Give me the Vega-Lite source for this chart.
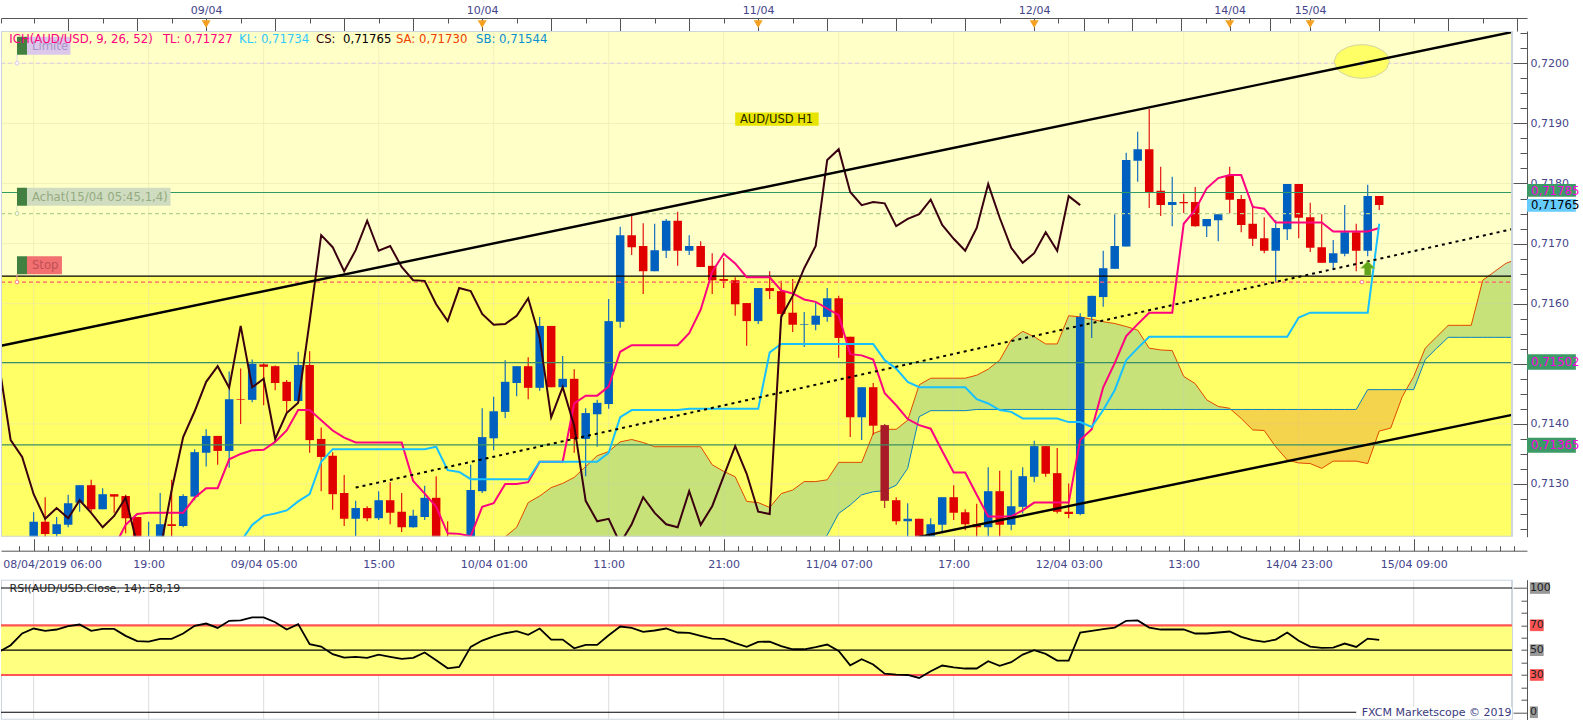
{"$schema":"https://vega.github.io/schema/vega-lite/v6.json","padding":0,"background":"white","spacing":0.7,
"config":{"view":{"stroke":null},"text":{"font":"DejaVu Sans"},"axis":{"title":null,"grid":false,"labelFont":"DejaVu Sans","labelFontSize":11,"labelColor":"#45458a","tickColor":"#555555","domainColor":"#555555","labelOverlap":false,"labelBound":false,"labelFlush":false}},
"datasets":{
"page":[{"a":-2.84,"b":134.8,"top":0.72105,"bottom":0.71145}],
"frame":[{"a":-2.84,"b":128.55,"top":0.720537,"bottom":0.712123}],
"bands":[{"zone":"upper","a":-2.84,"b":128.55,"top":0.720537,"bottom":0.71646},{"zone":"lower","a":-2.84,"b":128.55,"top":0.71646,"bottom":0.712123}],
"gridx":[{"bar":0},{"bar":10},{"bar":20},{"bar":30},{"bar":40},{"bar":50},{"bar":60},{"bar":70},{"bar":80},{"bar":90},{"bar":100},{"bar":110},{"bar":120}],
"gridy":[{"price":0.72},{"price":0.719},{"price":0.718},{"price":0.717},{"price":0.716},{"price":0.715},{"price":0.714},{"price":0.713}],
"levels":[{"level":"Limite","price":0.72},{"level":"Achat ordre","price":0.7175},{"level":"Achat","price":0.71785},{"level":"Prix","price":0.71646},{"level":"Stop","price":0.71636},{"level":"S1","price":0.71502},{"level":"S2","price":0.71365}],
"links":[{"o":"Limite","bar":-1.45,"top":0.72014,"price":0.72},{"o":"Achat","bar":-1.45,"top":0.71763,"price":0.7175},{"o":"Stop","bar":-1.45,"top":0.71649,"price":0.71636}],
"dots":[{"o":"Limite","bar":-1.45,"price":0.72},{"o":"Achat","bar":-1.45,"price":0.7175},{"o":"Stop","bar":-1.45,"price":0.71636},{"o":"Limite","bar":115.5,"price":0.72},{"o":"Achat","bar":115.5,"price":0.7175},{"o":"Stop","bar":115.5,"price":0.71636}],
"trends":[{"line":"haut","bar":-2.84,"price":0.7153},{"line":"haut","bar":128.55,"price":0.72052},{"line":"bas","bar":77,"price":0.71212},{"line":"bas","bar":128.55,"price":0.71415}],
"dotted":[{"bar":28,"price":0.71294},{"bar":128.55,"price":0.71724}],
"ellipse":[{"bar":113.07,"top":0.72003,"bottom":0.72003},{"bar":113.31,"top":0.72015,"bottom":0.71991},{"bar":113.67,"top":0.72021,"bottom":0.71985},{"bar":114.27,"top":0.72027,"bottom":0.71979},{"bar":114.88,"top":0.7203,"bottom":0.71976},{"bar":115.48,"top":0.72031,"bottom":0.71975},{"bar":116.08,"top":0.7203,"bottom":0.71976},{"bar":116.69,"top":0.72027,"bottom":0.71979},{"bar":117.29,"top":0.72021,"bottom":0.71985},{"bar":117.65,"top":0.72015,"bottom":0.71991},{"bar":117.89,"top":0.72003,"bottom":0.72003}],
"candles":[
{"bar":0,"dir":"up","open":0.712,"high":0.71253,"low":0.7119,"close":0.71237},{"bar":1,"dir":"dn","open":0.71237,"high":0.71278,"low":0.712,"close":0.71217},{"bar":2,"dir":"up","open":0.71217,"high":0.71245,"low":0.71205,"close":0.71233},{"bar":3,"dir":"up","open":0.71232,"high":0.71282,"low":0.71228,"close":0.71268},{"bar":4,"dir":"up","open":0.71269,"high":0.71298,"low":0.71254,"close":0.71298},{"bar":5,"dir":"dn","open":0.71298,"high":0.71307,"low":0.71254,"close":0.71258},{"bar":6,"dir":"up","open":0.71258,"high":0.71293,"low":0.71258,"close":0.71283},{"bar":7,"dir":"dn","open":0.71283,"high":0.71283,"low":0.71252,"close":0.71279},{"bar":8,"dir":"dn","open":0.7128,"high":0.71282,"low":0.71218,"close":0.71243},{"bar":9,"dir":"dn","open":0.71245,"high":0.71245,"low":0.7119,"close":0.71207},
{"bar":10,"dir":"up","open":0.7119,"high":0.71237,"low":0.7118,"close":0.71205},{"bar":11,"dir":"up","open":0.71196,"high":0.71285,"low":0.7119,"close":0.71233},{"bar":12,"dir":"dn","open":0.71233,"high":0.71307,"low":0.71207,"close":0.7123},{"bar":13,"dir":"up","open":0.7123,"high":0.71283,"low":0.71228,"close":0.7128},{"bar":14,"dir":"up","open":0.71279,"high":0.71358,"low":0.71273,"close":0.71353},{"bar":15,"dir":"up","open":0.71352,"high":0.71391,"low":0.71329,"close":0.7138},{"bar":16,"dir":"dn","open":0.7138,"high":0.7138,"low":0.71332,"close":0.71355},{"bar":17,"dir":"up","open":0.71355,"high":0.71487,"low":0.71327,"close":0.71441},{"bar":18,"dir":"dn","open":0.71441,"high":0.71492,"low":0.714,"close":0.7144},{"bar":19,"dir":"up","open":0.7144,"high":0.71507,"low":0.71436,"close":0.715},
{"bar":20,"dir":"dn","open":0.71499,"high":0.71501,"low":0.71431,"close":0.71495},{"bar":21,"dir":"dn","open":0.71496,"high":0.71497,"low":0.71456,"close":0.71468},{"bar":22,"dir":"dn","open":0.7147,"high":0.71473,"low":0.71418,"close":0.71438},{"bar":23,"dir":"up","open":0.71438,"high":0.7152,"low":0.71438,"close":0.71498},{"bar":24,"dir":"dn","open":0.71498,"high":0.71521,"low":0.71352,"close":0.71373},{"bar":25,"dir":"dn","open":0.71375,"high":0.71394,"low":0.71288,"close":0.71345},{"bar":26,"dir":"dn","open":0.71347,"high":0.71353,"low":0.71257,"close":0.71283},{"bar":27,"dir":"dn","open":0.71285,"high":0.71315,"low":0.7123,"close":0.71242},{"bar":28,"dir":"up","open":0.71242,"high":0.71272,"low":0.71213,"close":0.7126},{"bar":29,"dir":"dn","open":0.7126,"high":0.71263,"low":0.71238,"close":0.71243},
{"bar":30,"dir":"up","open":0.71243,"high":0.71288,"low":0.7124,"close":0.71273},{"bar":31,"dir":"dn","open":0.71273,"high":0.71303,"low":0.71233,"close":0.71252},{"bar":32,"dir":"dn","open":0.71254,"high":0.71285,"low":0.7122,"close":0.71228},{"bar":33,"dir":"up","open":0.71228,"high":0.71257,"low":0.71227,"close":0.71247},{"bar":34,"dir":"up","open":0.71245,"high":0.71297,"low":0.7124,"close":0.71277},{"bar":35,"dir":"dn","open":0.71277,"high":0.71313,"low":0.7119,"close":0.712},{"bar":36,"dir":"dn","open":0.71205,"high":0.71238,"low":0.71185,"close":0.71195},{"bar":37,"dir":"dn","open":0.712,"high":0.71205,"low":0.7118,"close":0.7119},{"bar":38,"dir":"up","open":0.7119,"high":0.71332,"low":0.7118,"close":0.7129},{"bar":39,"dir":"up","open":0.71288,"high":0.71426,"low":0.71285,"close":0.71378},
{"bar":40,"dir":"up","open":0.71376,"high":0.71445,"low":0.71356,"close":0.71421},{"bar":41,"dir":"up","open":0.7142,"high":0.71506,"low":0.7141,"close":0.7147},{"bar":42,"dir":"up","open":0.71468,"high":0.71496,"low":0.71446,"close":0.71496},{"bar":43,"dir":"dn","open":0.71496,"high":0.71511,"low":0.71441,"close":0.7146},{"bar":44,"dir":"up","open":0.7146,"high":0.71578,"low":0.71455,"close":0.71563},{"bar":45,"dir":"dn","open":0.71563,"high":0.71563,"low":0.71461,"close":0.71461},{"bar":46,"dir":"up","open":0.71461,"high":0.71513,"low":0.71461,"close":0.71475},{"bar":47,"dir":"dn","open":0.71475,"high":0.71491,"low":0.71352,"close":0.71375},{"bar":48,"dir":"up","open":0.71375,"high":0.71426,"low":0.71313,"close":0.71418},{"bar":49,"dir":"up","open":0.71416,"high":0.7144,"low":0.71362,"close":0.71435},
{"bar":50,"dir":"up","open":0.71433,"high":0.71608,"low":0.71425,"close":0.71571},{"bar":51,"dir":"up","open":0.7157,"high":0.71728,"low":0.7156,"close":0.71714},{"bar":52,"dir":"dn","open":0.71714,"high":0.71749,"low":0.71681,"close":0.71694},{"bar":53,"dir":"dn","open":0.71696,"high":0.71734,"low":0.71616,"close":0.71654},{"bar":54,"dir":"up","open":0.71654,"high":0.71733,"low":0.71654,"close":0.71689},{"bar":55,"dir":"up","open":0.71688,"high":0.71741,"low":0.71676,"close":0.71738},{"bar":56,"dir":"dn","open":0.71738,"high":0.71753,"low":0.71663,"close":0.71688},{"bar":57,"dir":"up","open":0.71688,"high":0.71714,"low":0.71681,"close":0.71696},{"bar":58,"dir":"dn","open":0.71696,"high":0.71704,"low":0.71661,"close":0.71661},{"bar":59,"dir":"dn","open":0.71663,"high":0.71684,"low":0.71616,"close":0.71639},
{"bar":60,"dir":"dn","open":0.71641,"high":0.71676,"low":0.71626,"close":0.71638},{"bar":61,"dir":"dn","open":0.71639,"high":0.71644,"low":0.7158,"close":0.71599},{"bar":62,"dir":"dn","open":0.71601,"high":0.71601,"low":0.7153,"close":0.71571},{"bar":63,"dir":"up","open":0.71571,"high":0.71626,"low":0.71566,"close":0.71626},{"bar":64,"dir":"dn","open":0.71626,"high":0.71654,"low":0.71608,"close":0.71621},{"bar":65,"dir":"dn","open":0.71621,"high":0.71638,"low":0.7158,"close":0.71583},{"bar":66,"dir":"dn","open":0.71585,"high":0.71641,"low":0.71553,"close":0.71565},{"bar":67,"dir":"up","open":0.71565,"high":0.71586,"low":0.71528,"close":0.71566},{"bar":68,"dir":"up","open":0.71565,"high":0.71601,"low":0.71556,"close":0.7158},{"bar":69,"dir":"up","open":0.71578,"high":0.71626,"low":0.7157,"close":0.71609},
{"bar":70,"dir":"dn","open":0.71609,"high":0.71613,"low":0.7151,"close":0.71543},{"bar":71,"dir":"dn","open":0.71545,"high":0.71545,"low":0.71378,"close":0.71411},{"bar":72,"dir":"up","open":0.71411,"high":0.71461,"low":0.71373,"close":0.71461},{"bar":73,"dir":"dn","open":0.71461,"high":0.71468,"low":0.71382,"close":0.71397},{"bar":74,"dir":"dnc","open":0.71398,"high":0.714,"low":0.7126,"close":0.71272},{"bar":75,"dir":"dn","open":0.71273,"high":0.71278,"low":0.71232,"close":0.71238},{"bar":76,"dir":"up","open":0.71238,"high":0.71268,"low":0.71201,"close":0.71242},{"bar":77,"dir":"dn","open":0.71242,"high":0.71242,"low":0.7119,"close":0.71201},{"bar":78,"dir":"up","open":0.71201,"high":0.71243,"low":0.7119,"close":0.71233},{"bar":79,"dir":"up","open":0.71232,"high":0.71278,"low":0.71218,"close":0.71278},
{"bar":80,"dir":"dn","open":0.71278,"high":0.71298,"low":0.7124,"close":0.71252},{"bar":81,"dir":"dn","open":0.71253,"high":0.71258,"low":0.71223,"close":0.71233},{"bar":82,"dir":"dn","open":0.71233,"high":0.71267,"low":0.71201,"close":0.71228},{"bar":83,"dir":"up","open":0.71228,"high":0.71328,"low":0.71207,"close":0.71288},{"bar":84,"dir":"dn","open":0.71288,"high":0.71322,"low":0.71207,"close":0.71232},{"bar":85,"dir":"up","open":0.71232,"high":0.71323,"low":0.71223,"close":0.71263},{"bar":86,"dir":"up","open":0.71262,"high":0.71328,"low":0.71251,"close":0.71313},{"bar":87,"dir":"up","open":0.71312,"high":0.71372,"low":0.71303,"close":0.71363},{"bar":88,"dir":"dn","open":0.71363,"high":0.71363,"low":0.71312,"close":0.71317},{"bar":89,"dir":"dn","open":0.71318,"high":0.7136,"low":0.71251,"close":0.71254},
{"bar":90,"dir":"dn","open":0.71254,"high":0.71301,"low":0.71243,"close":0.7125},{"bar":91,"dir":"up","open":0.7125,"high":0.71584,"low":0.71248,"close":0.71578},{"bar":92,"dir":"up","open":0.71578,"high":0.71613,"low":0.71543,"close":0.71613},{"bar":93,"dir":"up","open":0.71611,"high":0.71688,"low":0.71595,"close":0.71659},{"bar":94,"dir":"up","open":0.71658,"high":0.71749,"low":0.71658,"close":0.71696},{"bar":95,"dir":"up","open":0.71695,"high":0.71851,"low":0.71695,"close":0.71839},{"bar":96,"dir":"up","open":0.71838,"high":0.71886,"low":0.71803,"close":0.71857},{"bar":97,"dir":"dn","open":0.71857,"high":0.71924,"low":0.71759,"close":0.71786},{"bar":98,"dir":"dn","open":0.71788,"high":0.71828,"low":0.71746,"close":0.71764},{"bar":99,"dir":"up","open":0.71764,"high":0.71811,"low":0.71729,"close":0.71769},
{"bar":100,"dir":"dn","open":0.71769,"high":0.71783,"low":0.71751,"close":0.71767},{"bar":101,"dir":"dn","open":0.71769,"high":0.71794,"low":0.71728,"close":0.71729},{"bar":102,"dir":"up","open":0.71729,"high":0.71741,"low":0.71711,"close":0.71741},{"bar":103,"dir":"up","open":0.71739,"high":0.71749,"low":0.71704,"close":0.71749},{"bar":104,"dir":"dn","open":0.71813,"high":0.71828,"low":0.71751,"close":0.71773},{"bar":105,"dir":"dn","open":0.71774,"high":0.71781,"low":0.71719,"close":0.71731},{"bar":106,"dir":"dn","open":0.71733,"high":0.71764,"low":0.71696,"close":0.71708},{"bar":107,"dir":"dn","open":0.71709,"high":0.71744,"low":0.71684,"close":0.71688},{"bar":108,"dir":"up","open":0.71688,"high":0.71739,"low":0.71636,"close":0.71726},{"bar":109,"dir":"up","open":0.71724,"high":0.71799,"low":0.71706,"close":0.71799},
{"bar":110,"dir":"dn","open":0.71799,"high":0.71799,"low":0.71709,"close":0.71743},{"bar":111,"dir":"dn","open":0.71744,"high":0.71768,"low":0.71686,"close":0.71693},{"bar":112,"dir":"dn","open":0.71694,"high":0.71749,"low":0.71668,"close":0.71668},{"bar":113,"dir":"up","open":0.71668,"high":0.71706,"low":0.71656,"close":0.71684},{"bar":114,"dir":"up","open":0.71683,"high":0.71764,"low":0.71679,"close":0.71719},{"bar":115,"dir":"dn","open":0.71719,"high":0.71733,"low":0.71654,"close":0.71688},{"bar":116,"dir":"up","open":0.71688,"high":0.71798,"low":0.71679,"close":0.71779},{"bar":117,"dir":"dn","open":0.71779,"high":0.71779,"low":0.71756,"close":0.71764}],
"ichi":[{"bar":-3,"cs":0.71498},{"bar":-2,"cs":0.71373},{"bar":-1,"cs":0.71345},{"bar":0,"cs":0.71283},{"bar":1,"cs":0.71242},{"bar":2,"cs":0.7126},{"bar":3,"cs":0.71243},{"bar":4,"cs":0.71273},{"bar":5,"cs":0.71252},{"bar":6,"cs":0.71228},
{"bar":7,"cs":0.71247,"tl":0.71195},{"bar":8,"cs":0.71277,"tl":0.71232},{"bar":9,"cs":0.712,"tl":0.7125},{"bar":10,"cs":0.71195,"tl":0.71252},{"bar":11,"cs":0.7119,"tl":0.71252},{"bar":12,"cs":0.7129,"tl":0.71252},{"bar":13,"cs":0.71378,"tl":0.71252},{"bar":14,"cs":0.71421,"tl":0.71277},{"bar":15,"cs":0.7147,"tl":0.71293},{"bar":16,"cs":0.71496,"tl":0.71293},{"bar":17,"cs":0.7146,"tl":0.71341},
{"bar":18,"cs":0.71563,"tl":0.7135,"kl":0.71204},{"bar":19,"cs":0.71461,"tl":0.71356,"kl":0.71232},{"bar":20,"cs":0.71475,"tl":0.71357,"kl":0.71247},{"bar":21,"cs":0.71375,"tl":0.7137,"kl":0.71251},{"bar":22,"cs":0.71418,"tl":0.71389,"kl":0.71256},{"bar":23,"cs":0.71435,"tl":0.71423,"kl":0.71271},{"bar":24,"cs":0.71571,"tl":0.71423,"kl":0.71283},{"bar":25,"cs":0.71714,"tl":0.71406,"kl":0.71337},{"bar":26,"cs":0.71694,"tl":0.71389,"kl":0.71358},{"bar":27,"cs":0.71654,"tl":0.71377,"kl":0.71358},{"bar":28,"cs":0.71689,"tl":0.71369,"kl":0.71358},{"bar":29,"cs":0.71738,"tl":0.71369,"kl":0.71358},
{"bar":30,"cs":0.71688,"tl":0.71369,"kl":0.71358},{"bar":31,"cs":0.71696,"tl":0.71369,"kl":0.71358},{"bar":32,"cs":0.71661,"tl":0.71369,"kl":0.71358},{"bar":33,"cs":0.71639,"tl":0.71305,"kl":0.71358},{"bar":34,"cs":0.71638,"tl":0.71284,"kl":0.71358},{"bar":35,"cs":0.71599,"tl":0.71262,"kl":0.71362},{"bar":36,"cs":0.71571,"tl":0.71218,"kl":0.71323},{"bar":37,"cs":0.71626,"tl":0.71217,"kl":0.7132},{"bar":38,"cs":0.71621,"tl":0.71213,"kl":0.71308},{"bar":39,"cs":0.71583,"tl":0.71262,"kl":0.71308},
{"bar":40,"cs":0.71565,"tl":0.71268,"kl":0.71308},{"bar":41,"cs":0.71566,"tl":0.713,"kl":0.71308},{"bar":42,"cs":0.7158,"tl":0.713,"kl":0.71308},{"bar":43,"cs":0.71609,"tl":0.71303,"kl":0.71308},{"bar":44,"cs":0.71543,"tl":0.71337,"kl":0.71337},{"bar":45,"cs":0.71411,"tl":0.71337,"kl":0.71337},{"bar":46,"cs":0.71461,"tl":0.71337,"kl":0.71337},{"bar":47,"cs":0.71397,"tl":0.71434,"kl":0.71337},{"bar":48,"cs":0.71272,"tl":0.71447,"kl":0.71337},{"bar":49,"cs":0.71238,"tl":0.71447,"kl":0.71337},
{"bar":50,"cs":0.71242,"tl":0.71462,"kl":0.71352},{"bar":51,"cs":0.71201,"tl":0.7152,"kl":0.71411},{"bar":52,"cs":0.71233,"tl":0.71531,"kl":0.71423},{"bar":53,"cs":0.71278,"tl":0.71531,"kl":0.71423},{"bar":54,"cs":0.71252,"tl":0.71531,"kl":0.71423},{"bar":55,"cs":0.71233,"tl":0.71531,"kl":0.71423},{"bar":56,"cs":0.71228,"tl":0.71531,"kl":0.71423},{"bar":57,"cs":0.71288,"tl":0.71551,"kl":0.71425},{"bar":58,"cs":0.71232,"tl":0.7159,"kl":0.71425},{"bar":59,"cs":0.71263,"tl":0.71653,"kl":0.71425},
{"bar":60,"cs":0.71313,"tl":0.71683,"kl":0.71425},{"bar":61,"cs":0.71363,"tl":0.71667,"kl":0.71425},{"bar":62,"cs":0.71317,"tl":0.71644,"kl":0.71425},{"bar":63,"cs":0.71254,"tl":0.71644,"kl":0.71425},{"bar":64,"cs":0.7125,"tl":0.71644,"kl":0.71519},{"bar":65,"cs":0.71578,"tl":0.71622,"kl":0.71533},{"bar":66,"cs":0.71613,"tl":0.71617,"kl":0.71533},{"bar":67,"cs":0.71659,"tl":0.71607,"kl":0.71533},{"bar":68,"cs":0.71696,"tl":0.71603,"kl":0.71533},{"bar":69,"cs":0.71839,"tl":0.71592,"kl":0.71533},
{"bar":70,"cs":0.71857,"tl":0.71581,"kl":0.71533},{"bar":71,"cs":0.71786,"tl":0.71516,"kl":0.71533},{"bar":72,"cs":0.71764,"tl":0.71514,"kl":0.71533},{"bar":73,"cs":0.71769,"tl":0.71507,"kl":0.71533},{"bar":74,"cs":0.71767,"tl":0.71451,"kl":0.71506},{"bar":75,"cs":0.71729,"tl":0.71431,"kl":0.71492},{"bar":76,"cs":0.71741,"tl":0.71408,"kl":0.7147},{"bar":77,"cs":0.71749,"tl":0.71398,"kl":0.71461},{"bar":78,"cs":0.71773,"tl":0.71392,"kl":0.71461},{"bar":79,"cs":0.71731,"tl":0.71355,"kl":0.71461},
{"bar":80,"cs":0.71708,"tl":0.71319,"kl":0.71461},{"bar":81,"cs":0.71688,"tl":0.71319,"kl":0.71461},{"bar":82,"cs":0.71726,"tl":0.71282,"kl":0.71441},{"bar":83,"cs":0.71799,"tl":0.71246,"kl":0.71434},{"bar":84,"cs":0.71743,"tl":0.71246,"kl":0.71423},{"bar":85,"cs":0.71693,"tl":0.71246,"kl":0.7142},{"bar":86,"cs":0.71668,"tl":0.71256,"kl":0.71409},{"bar":87,"cs":0.71684,"tl":0.71269,"kl":0.71409},{"bar":88,"cs":0.71719,"tl":0.71269,"kl":0.71409},{"bar":89,"cs":0.71688,"tl":0.71269,"kl":0.71409},
{"bar":90,"cs":0.71779,"tl":0.71269,"kl":0.71403},{"bar":91,"cs":0.71764,"tl":0.71373,"kl":0.71403},{"bar":92,"tl":0.71391,"kl":0.71395},{"bar":93,"tl":0.71461,"kl":0.71423},{"bar":94,"tl":0.71501,"kl":0.71456},{"bar":95,"tl":0.71546,"kl":0.71506},{"bar":96,"tl":0.71566,"kl":0.71526},{"bar":97,"tl":0.71585,"kl":0.71545},{"bar":98,"tl":0.71585,"kl":0.71545},{"bar":99,"tl":0.71585,"kl":0.71545},
{"bar":100,"tl":0.71733,"kl":0.71545},{"bar":101,"tl":0.71756,"kl":0.71545},{"bar":102,"tl":0.71792,"kl":0.71545},{"bar":103,"tl":0.71809,"kl":0.71545},{"bar":104,"tl":0.71814,"kl":0.71545},{"bar":105,"tl":0.71814,"kl":0.71545},{"bar":106,"tl":0.71761,"kl":0.71545},{"bar":107,"tl":0.71758,"kl":0.71545},{"bar":108,"tl":0.71735,"kl":0.71545},{"bar":109,"tl":0.71735,"kl":0.71545},
{"bar":110,"tl":0.71735,"kl":0.71577},{"bar":111,"tl":0.71735,"kl":0.71585},{"bar":112,"tl":0.71735,"kl":0.71585},{"bar":113,"tl":0.7172,"kl":0.71585},{"bar":114,"tl":0.7172,"kl":0.71585},{"bar":115,"tl":0.7172,"kl":0.71585},{"bar":116,"tl":0.7172,"kl":0.71585},{"bar":117,"tl":0.71726,"kl":0.71733}],
"cloud":[{"seg":"A","bar":41,"sa":0.71212,"sb":0.71195},{"seg":"A","bar":42,"sa":0.71228,"sb":0.71195},{"seg":"A","bar":43,"sa":0.71269,"sb":0.71195},{"seg":"A","bar":44,"sa":0.7128,"sb":0.71195},{"seg":"A","bar":45,"sa":0.71294,"sb":0.71195},{"seg":"A","bar":46,"sa":0.71301,"sb":0.71195},{"seg":"A","bar":47,"sa":0.71311,"sb":0.71195},{"seg":"A","bar":48,"sa":0.71329,"sb":0.71195},{"seg":"A","bar":49,"sa":0.71347,"sb":0.71195},{"seg":"A","bar":50,"sa":0.71354,"sb":0.71195},{"seg":"A","bar":51,"sa":0.7137,"sb":0.71195},{"seg":"A","bar":52,"sa":0.71374,"sb":0.71195},{"seg":"A","bar":53,"sa":0.71369,"sb":0.71195},{"seg":"A","bar":54,"sa":0.71362,"sb":0.71195},{"seg":"A","bar":55,"sa":0.71362,"sb":0.71195},{"seg":"A","bar":56,"sa":0.71362,"sb":0.71195},{"seg":"A","bar":57,"sa":0.71362,"sb":0.71195},{"seg":"A","bar":58,"sa":0.71362,"sb":0.71195},{"seg":"A","bar":59,"sa":0.71332,"sb":0.71195},{"seg":"A","bar":60,"sa":0.71321,"sb":0.71195},{"seg":"A","bar":61,"sa":0.71312,"sb":0.71195},{"seg":"A","bar":62,"sa":0.71271,"sb":0.71195},{"seg":"A","bar":63,"sa":0.71269,"sb":0.71195},{"seg":"A","bar":64,"sa":0.71261,"sb":0.71195},{"seg":"A","bar":65,"sa":0.71284,"sb":0.71195},{"seg":"A","bar":66,"sa":0.7129,"sb":0.71195},{"seg":"A","bar":67,"sa":0.71304,"sb":0.71195},{"seg":"A","bar":68,"sa":0.71304,"sb":0.71195},{"seg":"A","bar":69,"sa":0.71307,"sb":0.71215},{"seg":"A","bar":70,"sa":0.71336,"sb":0.71251},{"seg":"A","bar":71,"sa":0.71336,"sb":0.71265},{"seg":"A","bar":72,"sa":0.71336,"sb":0.71282},{"seg":"A","bar":73,"sa":0.71384,"sb":0.71287},{"seg":"A","bar":74,"sa":0.71391,"sb":0.71289},{"seg":"A","bar":75,"sa":0.71391,"sb":0.71298},{"seg":"A","bar":76,"sa":0.71406,"sb":0.71326},{"seg":"A","bar":77,"sa":0.71465,"sb":0.71412},{"seg":"A","bar":78,"sa":0.71476,"sb":0.71422},{"seg":"A","bar":79,"sa":0.71476,"sb":0.71422},{"seg":"A","bar":80,"sa":0.71476,"sb":0.71422},{"seg":"A","bar":81,"sa":0.71476,"sb":0.71422},{"seg":"A","bar":82,"sa":0.71481,"sb":0.71424},{"seg":"A","bar":83,"sa":0.71491,"sb":0.71424},{"seg":"A","bar":84,"sa":0.71506,"sb":0.71424},{"seg":"A","bar":85,"sa":0.7154,"sb":0.71424},{"seg":"A","bar":86,"sa":0.71554,"sb":0.71424},{"seg":"A","bar":87,"sa":0.71545,"sb":0.71424},{"seg":"A","bar":88,"sa":0.71533,"sb":0.71424},{"seg":"A","bar":89,"sa":0.71533,"sb":0.71424},{"seg":"A","bar":90,"sa":0.7158,"sb":0.71424},{"seg":"A","bar":91,"sa":0.71578,"sb":0.71424},{"seg":"A","bar":92,"sa":0.71574,"sb":0.71424},{"seg":"A","bar":93,"sa":0.7157,"sb":0.71424},{"seg":"A","bar":94,"sa":0.71567,"sb":0.71424},{"seg":"A","bar":95,"sa":0.71562,"sb":0.71424},{"seg":"A","bar":96,"sa":0.71556,"sb":0.71424},{"seg":"A","bar":97,"sa":0.71526,"sb":0.71424},{"seg":"A","bar":98,"sa":0.71523,"sb":0.71424},{"seg":"A","bar":99,"sa":0.71522,"sb":0.71424},{"seg":"A","bar":100,"sa":0.71479,"sb":0.71424},{"seg":"A","bar":101,"sa":0.71467,"sb":0.71424},{"seg":"A","bar":102,"sa":0.7144,"sb":0.71424},{"seg":"A","bar":103,"sa":0.71429,"sb":0.71424},{"seg":"A","bar":104,"sa":0.71426,"sb":0.71424},{"seg":"A","bar":104.1,"sa":0.71424,"sb":0.71424},
{"seg":"B","bar":104.1,"sa":0.71424,"sb":0.71424},{"seg":"B","bar":105,"sa":0.71409,"sb":0.71424},{"seg":"B","bar":106,"sa":0.7139,"sb":0.71424},{"seg":"B","bar":107,"sa":0.71389,"sb":0.71424},{"seg":"B","bar":108,"sa":0.71362,"sb":0.71424},{"seg":"B","bar":109,"sa":0.7134,"sb":0.71424},{"seg":"B","bar":110,"sa":0.71335,"sb":0.71424},{"seg":"B","bar":111,"sa":0.71334,"sb":0.71424},{"seg":"B","bar":112,"sa":0.71326,"sb":0.71424},{"seg":"B","bar":113,"sa":0.71338,"sb":0.71424},{"seg":"B","bar":114,"sa":0.71338,"sb":0.71424},{"seg":"B","bar":115,"sa":0.71338,"sb":0.71424},{"seg":"B","bar":116,"sa":0.71334,"sb":0.71457},{"seg":"B","bar":117,"sa":0.71388,"sb":0.71457},{"seg":"B","bar":118,"sa":0.71393,"sb":0.71457},{"seg":"B","bar":119,"sa":0.71445,"sb":0.71457},{"seg":"B","bar":119.35,"sa":0.71457,"sb":0.71457},
{"seg":"C","bar":119.35,"sa":0.71457,"sb":0.71457},{"seg":"C","bar":120,"sa":0.71479,"sb":0.71457},{"seg":"C","bar":121,"sa":0.71526,"sb":0.71507},{"seg":"C","bar":122,"sa":0.71545,"sb":0.71526},{"seg":"C","bar":123,"sa":0.71564,"sb":0.71544},{"seg":"C","bar":124,"sa":0.71564,"sb":0.71544},{"seg":"C","bar":125,"sa":0.71564,"sb":0.71544},{"seg":"C","bar":126,"sa":0.71639,"sb":0.71544},{"seg":"C","bar":127,"sa":0.71653,"sb":0.71544},{"seg":"C","bar":128,"sa":0.71667,"sb":0.71544},{"seg":"C","bar":128.55,"sa":0.71671,"sb":0.71544}],
"boxes":[{"name":"limiteG","a":-1.45,"b":-0.58,"top":0.72044,"bottom":0.72014},{"name":"limite","a":-0.58,"b":3.2,"top":0.72044,"bottom":0.72014},{"name":"achatG","a":-1.45,"b":-0.58,"top":0.71793,"bottom":0.71763},{"name":"achat","a":-0.58,"b":11.9,"top":0.71793,"bottom":0.71763},{"name":"stopG","a":-1.45,"b":-0.58,"top":0.71679,"bottom":0.71649},{"name":"stop","a":-0.58,"b":2.46,"top":0.71679,"bottom":0.71649},{"name":"paire","a":61,"b":68.26,"top":0.71918,"bottom":0.71896},{"name":"tagVert","a":129.85,"b":134.1,"top":0.71799,"bottom":0.71778},{"name":"tagBleu","a":129.85,"b":134.1,"top":0.71774,"bottom":0.71753},{"name":"tagVert","a":129.85,"b":134.1,"top":0.71516,"bottom":0.7149},{"name":"tagVert","a":129.85,"b":134.1,"top":0.71377,"bottom":0.71352}],
"notes":[{"t":"ICH(AUD/USD, 9, 26, 52)","bar":-2.12,"price":0.7204,"k":"pink"},{"t":"TL: 0,71727","bar":11.24,"price":0.7204,"k":"pink"},{"t":"KL: 0,71734","bar":17.86,"price":0.7204,"k":"cyan"},{"t":"CS: ","bar":24.55,"price":0.7204,"k":"dark"},{"t":"0,71765","bar":26.9,"price":0.7204,"k":"black"},{"t":"SA: 0,71730","bar":31.5,"price":0.7204,"k":"orange"},{"t":"SB: 0,71544","bar":38.46,"price":0.7204,"k":"blue"},{"t":"Limite","bar":-0.15,"price":0.72029,"k":"lim"},{"t":"Achat(15/04 05:45,1,4)","bar":-0.15,"price":0.71778,"k":"ach"},{"t":"Stop","bar":-0.15,"price":0.71664,"k":"stp"},{"t":"0,71785","bar":130.2,"price":0.71788,"k":"mag"},{"t":"0,71765","bar":130.2,"price":0.71764,"k":"black"},{"t":"0,71502","bar":130.2,"price":0.71503,"k":"mag"},{"t":"0,71365","bar":130.2,"price":0.71365,"k":"mag"}],
"pair":[{"t":"AUD/USD H1","bar":64.6,"price":0.71906}],
"ticks":[{"bar":15},{"bar":39},{"bar":63},{"bar":87},{"bar":104},{"bar":111}],
"arrow":[{"bar":116,"price":0.71659}],
"rsi":[{"bar":-3,"rsi":48.6},{"bar":-2,"rsi":54},{"bar":-1,"rsi":63.4},{"bar":0,"rsi":67.4},{"bar":1,"rsi":65.5},{"bar":2,"rsi":66.6},{"bar":3,"rsi":69.3},{"bar":4,"rsi":70.6},{"bar":5,"rsi":65.5},{"bar":6,"rsi":67.1},{"bar":7,"rsi":67.1},{"bar":8,"rsi":61.5},{"bar":9,"rsi":57.2},{"bar":10,"rsi":56.9},{"bar":11,"rsi":59.1},{"bar":12,"rsi":59.1},{"bar":13,"rsi":63.4},{"bar":14,"rsi":69.6},{"bar":15,"rsi":71.4},{"bar":16,"rsi":67.9},{"bar":17,"rsi":73.6},{"bar":18,"rsi":73.9},{"bar":19,"rsi":76.3},{"bar":20,"rsi":76.3},{"bar":21,"rsi":72.5},{"bar":22,"rsi":66.6},{"bar":23,"rsi":70.9},{"bar":24,"rsi":54.8},{"bar":25,"rsi":52.9},{"bar":26,"rsi":46.7},{"bar":27,"rsi":44},{"bar":28,"rsi":44.6},{"bar":29,"rsi":43.8},{"bar":30,"rsi":46.4},{"bar":31,"rsi":44.6},{"bar":32,"rsi":43},{"bar":33,"rsi":43.8},{"bar":34,"rsi":48.1},{"bar":35,"rsi":41.9},{"bar":36,"rsi":35.4},{"bar":37,"rsi":36.5},{"bar":38,"rsi":52.6},{"bar":39,"rsi":57.7},{"bar":40,"rsi":61},{"bar":41,"rsi":63.6},{"bar":42,"rsi":65.3},{"bar":43,"rsi":62.3},{"bar":44,"rsi":67.4},{"bar":45,"rsi":58.5},{"bar":46,"rsi":58.5},{"bar":47,"rsi":51.5},{"bar":48,"rsi":54.2},{"bar":49,"rsi":54.2},{"bar":50,"rsi":62},{"bar":51,"rsi":69},{"bar":52,"rsi":67.9},{"bar":53,"rsi":64.7},{"bar":54,"rsi":65.8},{"bar":55,"rsi":67.4},{"bar":56,"rsi":64.2},{"bar":57,"rsi":63.9},{"bar":58,"rsi":61.5},{"bar":59,"rsi":59.3},{"bar":60,"rsi":59.1},{"bar":61,"rsi":55.6},{"bar":62,"rsi":52.6},{"bar":63,"rsi":56.7},{"bar":64,"rsi":56.9},{"bar":65,"rsi":53.2},{"bar":66,"rsi":50.7},{"bar":67,"rsi":50.7},{"bar":68,"rsi":52.4},{"bar":69,"rsi":54.5},{"bar":70,"rsi":49.4},{"bar":71,"rsi":37.8},{"bar":72,"rsi":42.7},{"bar":73,"rsi":38.4},{"bar":74,"rsi":31.1},{"bar":75,"rsi":30.3},{"bar":76,"rsi":30},{"bar":77,"rsi":27.6},{"bar":78,"rsi":33},{"bar":79,"rsi":37.6},{"bar":80,"rsi":36.2},{"bar":81,"rsi":35.2},{"bar":82,"rsi":35.2},{"bar":83,"rsi":41.1},{"bar":84,"rsi":37.3},{"bar":85,"rsi":40.3},{"bar":86,"rsi":46.4},{"bar":87,"rsi":49.9},{"bar":88,"rsi":47},{"bar":89,"rsi":41.6},{"bar":90,"rsi":41.6},{"bar":91,"rsi":64.2},{"bar":92,"rsi":65.5},{"bar":93,"rsi":66.9},{"bar":94,"rsi":68.2},{"bar":95,"rsi":73.6},{"bar":96,"rsi":73.9},{"bar":97,"rsi":68.2},{"bar":98,"rsi":66.6},{"bar":99,"rsi":66.6},{"bar":100,"rsi":66.6},{"bar":101,"rsi":63.4},{"bar":102,"rsi":63.4},{"bar":103,"rsi":64.2},{"bar":104,"rsi":65},{"bar":105,"rsi":60.7},{"bar":106,"rsi":58},{"bar":107,"rsi":56.7},{"bar":108,"rsi":58.5},{"bar":109,"rsi":64.2},{"bar":110,"rsi":57.5},{"bar":111,"rsi":52.9},{"bar":112,"rsi":51.8},{"bar":113,"rsi":52.1},{"bar":114,"rsi":55.3},{"bar":115,"rsi":52.6},{"bar":116,"rsi":59.3},{"bar":117,"rsi":58.3}],
"rsiLevels":[{"v":100,"k":"noir"},{"v":70,"k":"rouge"},{"v":50,"k":"noir"},{"v":30,"k":"rouge"},{"v":0,"k":"noir"}],
"rsiTags":[{"t":"100","v":100,"top":104.7,"bottom":95.3,"a":130.1,"b":131.85,"k":"gris"},{"t":"70","v":70,"top":74.7,"bottom":65.3,"a":130.1,"b":131.3,"k":"rouge"},{"t":"50","v":50,"top":54.7,"bottom":45.3,"a":130.1,"b":131.3,"k":"gris"},{"t":"30","v":30,"top":34.7,"bottom":25.3,"a":130.1,"b":131.3,"k":"rouge"},{"t":"0","v":0,"top":4.7,"bottom":-4.7,"a":130.1,"b":130.8,"k":"gris"}],
"rsiNotes":[{"t":"RSI(AUD/USD.Close, 14): 58,19","bar":-2.1,"v":99.5,"k":"rsi"}],
"rsiMark":[{"t":"FXCM Marketscope © 2019","bar":128.5,"v":-0.5,"a":115.0,"b":128.55,"top":4,"bottom":-5}],
"rsiBand":[{"a":-2.84,"b":128.55,"top":70,"bottom":30}],
"rsiFrame":[{"a":-2.84,"b":128.55,"top":106.7,"bottom":-6}]
},
"vconcat":[
{"width":1526,"height":505.7,"resolve":{"axis":{"x":"independent","y":"independent"},"scale":{"color":"independent","strokeDash":"independent"}},"layer":[
{"data":{"name":"page"},"mark":{"type":"rect","fill":"white","opacity":0},"encoding":{
"x":{"field":"a","type":"quantitative","scale":{"domain":[-2.84,129.85]},"axis":{"orient":"bottom","offset":14,"tickSize":-12,"labelPadding":20,"values":[0,10,20,30,40,50,60,70,80,90,100,110,120],"labelExpr":"{'0':'08/04/2019 06:00','10':'19:00','20':'09/04 05:00','30':'15:00','40':'10/04 01:00','50':'11:00','60':'21:00','70':'11/04 07:00','80':'17:00','90':'12/04 03:00','100':'13:00','110':'14/04 23:00','120':'15/04 09:00'}[''+datum.value]","labelOffset":{"condition":{"test":"datum.value===0","value":18.5},"value":0}}},
"x2":{"field":"b"},
"y":{"field":"top","type":"quantitative","scale":{"domain":[0.712123,0.720537]},"axis":{"orient":"right","tickSize":-14,"labelPadding":17,"values":[0.72,0.719,0.718,0.717,0.716,0.715,0.714,0.713],"labelExpr":"replace(format(datum.value,'.4f'),'.',',')"}},
"y2":{"field":"bottom"}}},
{"data":{"name":"bands"},"mark":{"type":"rect"},"encoding":{
"x":{"field":"a","type":"quantitative","scale":{"domain":[-2.84,129.85]},"axis":{"orient":"bottom","offset":14,"tickSize":-5,"labels":false,"domain":false,"values":[-1.25,1.25,2.5,3.75,5,6.25,7.5,8.75,11.25,12.5,13.75,15,16.25,17.5,18.75,21.25,22.5,23.75,25,26.25,27.5,28.75,31.25,32.5,33.75,35,36.25,37.5,38.75,41.25,42.5,43.75,45,46.25,47.5,48.75,51.25,52.5,53.75,55,56.25,57.5,58.75,61.25,62.5,63.75,65,66.25,67.5,68.75,71.25,72.5,73.75,75,76.25,77.5,78.75,81.25,82.5,83.75,85,86.25,87.5,88.75,91.25,92.5,93.75,95,96.25,97.5,98.75,101.25,102.5,103.75,105,106.25,107.5,108.75,111.25,112.5,113.75,115,116.25,117.5,118.75,121.25,122.5,123.75,125,126.25,127.5,128.75]}},
"x2":{"field":"b"},
"y":{"field":"top","type":"quantitative","scale":{"domain":[0.712123,0.720537]},"axis":{"orient":"right","tickSize":-7,"labels":false,"domain":false,"values":[0.72050,0.72025,0.71975,0.7195,0.71925,0.71875,0.7185,0.71825,0.71775,0.7175,0.71725,0.71675,0.7165,0.71625,0.71575,0.7155,0.71525,0.71475,0.7145,0.71425,0.71375,0.7135,0.71325,0.71275,0.7125,0.71225]}},
"y2":{"field":"bottom"},
"color":{"field":"zone","type":"nominal","legend":null,"scale":{"domain":["upper","lower"],"range":["#ffffc8","#ffff66"]}}}},
{"data":{"name":"gridx"},"mark":{"type":"rule","stroke":"#e8e4b0","strokeWidth":1,"opacity":0.55},"encoding":{
"x":{"field":"bar","type":"quantitative","scale":{"domain":[-2.84,129.85]},"axis":{"orient":"top","offset":13,"tickSize":-13,"labelPadding":16,"values":[3,9,15,21,27,33,39,45,51,57,63,69,75,81,87,91.3,95.5,99.8,104,107.5,111,117,123,129],"labelExpr":"{'15':'09/04','39':'10/04','63':'11/04','87':'12/04','104':'14/04','111':'15/04'}[''+datum.value]||''"}},
"y":{"datum":0.720537,"type":"quantitative","scale":{"domain":[0.712123,0.720537]},"axis":null},
"y2":{"datum":0.712123}}},
{"data":{"name":"gridy"},"mark":{"type":"rule","clip":true,"stroke":"#e8e4b0","strokeWidth":1,"opacity":0.55},"encoding":{
"y":{"field":"price","type":"quantitative","scale":{"domain":[0.712123,0.720537]},"axis":null},
"x":{"datum":-2.84,"type":"quantitative","scale":{"domain":[-2.84,129.85]},"axis":{"orient":"top","offset":13,"tickSize":-5,"labels":false,"domain":false,"values":[-2.8,0,6,12,18,24,30,36,42,48,54,60,66,72,78,84,89.1,93.4,97.6,101.9,105.7,109.2,114,120,126]}},
"x2":{"datum":128.55}}},
{"data":{"name":"cloud"},"mark":{"type":"area","clip":true,"opacity":0.5},"encoding":{
"x":{"field":"bar","type":"quantitative","scale":{"domain":[-2.84,129.85]},"axis":null},
"y":{"field":"sa","type":"quantitative","scale":{"domain":[0.712123,0.720537]},"axis":null},
"y2":{"field":"sb"},
"color":{"field":"seg","type":"nominal","legend":null,"scale":{"domain":["A","B","C"],"range":["#91c58e","#e9a932","#91c58e"]}}}},
{"data":{"name":"cloud"},"mark":{"type":"line","clip":true,"stroke":"#e04800","strokeWidth":1},"encoding":{
"x":{"field":"bar","type":"quantitative","scale":{"domain":[-2.84,129.85]},"axis":null},
"y":{"field":"sa","type":"quantitative","scale":{"domain":[0.712123,0.720537]},"axis":null}}},
{"data":{"name":"cloud"},"mark":{"type":"line","clip":true,"stroke":"#0a80c0","strokeWidth":1},"encoding":{
"x":{"field":"bar","type":"quantitative","scale":{"domain":[-2.84,129.85]},"axis":null},
"y":{"field":"sb","type":"quantitative","scale":{"domain":[0.712123,0.720537]},"axis":null}}},
{"data":{"name":"candles"},"mark":{"type":"rule","clip":true,"strokeWidth":1.1},"encoding":{
"x":{"field":"bar","type":"quantitative","scale":{"domain":[-2.84,129.85]},"axis":null},
"y":{"field":"high","type":"quantitative","scale":{"domain":[0.712123,0.720537]},"axis":null},
"y2":{"field":"low"},
"color":{"field":"dir","type":"nominal","legend":null,"scale":{"domain":["up","dn","dnc"],"range":["#0060c0","#e00000","#a81c28"]}}}},
{"data":{"name":"candles"},"mark":{"type":"rule","clip":true,"strokeWidth":8.5},"encoding":{
"x":{"field":"bar","type":"quantitative","scale":{"domain":[-2.84,129.85]},"axis":null},
"y":{"field":"open","type":"quantitative","scale":{"domain":[0.712123,0.720537]},"axis":null},
"y2":{"field":"close"},
"color":{"field":"dir","type":"nominal","legend":null,"scale":{"domain":["up","dn","dnc"],"range":["#0060c0","#e00000","#a81c28"]}}}},
{"data":{"name":"levels"},"mark":{"type":"rule","clip":true,"strokeWidth":1.2},"encoding":{
"y":{"field":"price","type":"quantitative","scale":{"domain":[0.712123,0.720537]},"axis":null},
"x":{"datum":-2.84,"type":"quantitative","scale":{"domain":[-2.84,129.85]},"axis":null},
"x2":{"datum":128.55},
"color":{"field":"level","type":"nominal","legend":null,"scale":{"domain":["Limite","Achat ordre","Achat","Prix","Stop","S1","S2"],"range":["#dcc8ea","#b4d090","#2f9a68","#000000","#ff5a70","#3a9060","#3a9060"]}},
"strokeDash":{"field":"level","type":"nominal","legend":null,"scale":{"domain":["Limite","Achat ordre","Achat","Prix","Stop","S1","S2"],"range":[[4,3],[4,3],[1,0],[1,0],[4,3],[1,0],[1,0]]}}}},
{"data":{"name":"ellipse"},"mark":{"type":"area","fill":"#ffff66","stroke":"#d4d4a0","strokeWidth":1},"encoding":{
"x":{"field":"bar","type":"quantitative","scale":{"domain":[-2.84,129.85]},"axis":null},
"y":{"field":"top","type":"quantitative","scale":{"domain":[0.712123,0.720537]},"axis":null},
"y2":{"field":"bottom"}}},
{"data":{"name":"links"},"mark":{"type":"rule","strokeWidth":1},"encoding":{
"x":{"field":"bar","type":"quantitative","scale":{"domain":[-2.84,129.85]},"axis":null},
"y":{"field":"top","type":"quantitative","scale":{"domain":[0.712123,0.720537]},"axis":null},
"y2":{"field":"price"},
"color":{"field":"o","type":"nominal","legend":null,"scale":{"domain":["Limite","Achat","Stop"],"range":["#e4d4ee","#d4e4c0","#ff9aa4"]}}}},
{"data":{"name":"dots"},"mark":{"type":"point","size":14,"fill":"#ffffff","fillOpacity":1,"strokeWidth":1,"opacity":1},"encoding":{
"x":{"field":"bar","type":"quantitative","scale":{"domain":[-2.84,129.85]},"axis":null},
"y":{"field":"price","type":"quantitative","scale":{"domain":[0.712123,0.720537]},"axis":null},
"color":{"field":"o","type":"nominal","legend":null,"scale":{"domain":["Limite","Achat","Stop"],"range":["#dcc8ea","#b4d090","#ff7a88"]}}}},
{"data":{"name":"ichi"},"mark":{"type":"line","clip":true,"stroke":"#ff0080","strokeWidth":2},"encoding":{
"x":{"field":"bar","type":"quantitative","scale":{"domain":[-2.84,129.85]},"axis":null},
"y":{"field":"tl","type":"quantitative","scale":{"domain":[0.712123,0.720537]},"axis":null}}},
{"data":{"name":"ichi"},"mark":{"type":"line","clip":true,"stroke":"#18c0ff","strokeWidth":2},"encoding":{
"x":{"field":"bar","type":"quantitative","scale":{"domain":[-2.84,129.85]},"axis":null},
"y":{"field":"kl","type":"quantitative","scale":{"domain":[0.712123,0.720537]},"axis":null}}},
{"data":{"name":"ichi"},"mark":{"type":"line","clip":true,"stroke":"#3a0010","strokeWidth":2},"encoding":{
"x":{"field":"bar","type":"quantitative","scale":{"domain":[-2.84,129.85]},"axis":null},
"y":{"field":"cs","type":"quantitative","scale":{"domain":[0.712123,0.720537]},"axis":null}}},
{"data":{"name":"trends"},"mark":{"type":"line","clip":true,"stroke":"#000000","strokeWidth":2.4},"encoding":{
"x":{"field":"bar","type":"quantitative","scale":{"domain":[-2.84,129.85]},"axis":null},
"y":{"field":"price","type":"quantitative","scale":{"domain":[0.712123,0.720537]},"axis":null},
"detail":{"field":"line"}}},
{"data":{"name":"dotted"},"mark":{"type":"line","clip":true,"stroke":"#000000","strokeWidth":2,"strokeDash":[3,4]},"encoding":{
"x":{"field":"bar","type":"quantitative","scale":{"domain":[-2.84,129.85]},"axis":null},
"y":{"field":"price","type":"quantitative","scale":{"domain":[0.712123,0.720537]},"axis":null}}},
{"data":{"name":"arrow"},"mark":{"type":"point","filled":true,"opacity":1,"size":200,"color":"#62a41c","stroke":"#8fc83a","strokeWidth":0.5,"shape":"M0,-1 L1,0 L0.45,0 L0.45,1 L-0.45,1 L-0.45,0 L-1,0 Z"},"encoding":{
"x":{"field":"bar","type":"quantitative","scale":{"domain":[-2.84,129.85]},"axis":null},
"y":{"field":"price","type":"quantitative","scale":{"domain":[0.712123,0.720537]},"axis":null}}},
{"data":{"name":"ticks"},"mark":{"type":"point","filled":true,"opacity":1,"shape":"triangle-down","size":80,"color":"#f5a020"},"encoding":{
"x":{"field":"bar","type":"quantitative","scale":{"domain":[-2.84,129.85]},"axis":null},
"y":{"datum":0.72065,"type":"quantitative","scale":{"domain":[0.712123,0.720537]},"axis":null}}},
{"data":{"name":"frame"},"mark":{"type":"rect","clip":true,"fillOpacity":0,"stroke":"#ccd6e0","strokeWidth":2},"encoding":{
"x":{"field":"a","type":"quantitative","scale":{"domain":[-2.84,129.85]},"axis":null},
"x2":{"field":"b"},
"y":{"field":"top","type":"quantitative","scale":{"domain":[0.712123,0.720537]},"axis":null},
"y2":{"field":"bottom"}}},
{"data":{"name":"boxes"},"mark":{"type":"rect"},"encoding":{
"x":{"field":"a","type":"quantitative","scale":{"domain":[-2.84,129.85]},"axis":null},
"x2":{"field":"b"},
"y":{"field":"top","type":"quantitative","scale":{"domain":[0.712123,0.720537]},"axis":null},
"y2":{"field":"bottom"},
"color":{"field":"name","type":"nominal","legend":null,"scale":{"domain":["limiteG","limite","achatG","achat","stopG","stop","paire","tagVert","tagBleu"],"range":["#418040","#dcc8ea","#418040","#cfdcc0","#418040","#f27070","#e8e400","#3c9a66","#66ccff"]}}}},
{"data":{"name":"notes"},"mark":{"type":"text","align":"left","baseline":"middle","fontSize":11.7},"encoding":{
"x":{"field":"bar","type":"quantitative","scale":{"domain":[-2.84,129.85]},"axis":null},
"y":{"field":"price","type":"quantitative","scale":{"domain":[0.712123,0.720537]},"axis":null},
"text":{"field":"t"},
"color":{"field":"k","type":"nominal","legend":null,"scale":{"domain":["pink","cyan","dark","black","orange","blue","lim","ach","stp","mag"],"range":["#ff0080","#30c8ff","#3a0010","#000000","#f04000","#0890d0","#a896c8","#95ab80","#c05058","#ff00e0"]}}}},
{"data":{"name":"pair"},"mark":{"type":"text","align":"center","baseline":"middle","fontSize":11.5,"color":"#222200"},"encoding":{
"x":{"field":"bar","type":"quantitative","scale":{"domain":[-2.84,129.85]},"axis":null},
"y":{"field":"price","type":"quantitative","scale":{"domain":[0.712123,0.720537]},"axis":null},
"text":{"field":"t"}}}
]},
{"width":1526,"height":140,"resolve":{"axis":{"y":"independent"},"scale":{"color":"independent","strokeWidth":"independent"}},"layer":[
{"data":{"name":"rsiFrame"},"mark":{"type":"rect","clip":true,"fill":"white","stroke":"#ccd6e0","strokeWidth":2},"encoding":{
"x":{"field":"a","type":"quantitative","scale":{"domain":[-2.84,129.85]},"axis":null},
"x2":{"field":"b"},
"y":{"field":"top","type":"quantitative","scale":{"domain":[-6,106.7]},"axis":{"orient":"right","tickSize":-14,"labels":false,"values":[0,100]}},
"y2":{"field":"bottom"}}},
{"data":{"name":"gridx"},"mark":{"type":"rule","stroke":"#dddddd","strokeWidth":1},"encoding":{
"x":{"field":"bar","type":"quantitative","scale":{"domain":[-2.84,129.85]},"axis":null},
"y":{"datum":106.7,"type":"quantitative","scale":{"domain":[-6,106.7]},"axis":{"orient":"right","tickSize":-6,"labels":false,"domain":false,"values":[10,20,30,40,50,60,70,80,90]}},
"y2":{"datum":-6}}},
{"data":{"name":"rsiBand"},"mark":{"type":"rect","fill":"#ffff80"},"encoding":{
"x":{"field":"a","type":"quantitative","scale":{"domain":[-2.84,129.85]},"axis":null},
"x2":{"field":"b"},
"y":{"field":"top","type":"quantitative","scale":{"domain":[-6,106.7]},"axis":null},
"y2":{"field":"bottom"}}},
{"data":{"name":"rsiLevels"},"mark":{"type":"rule","clip":true},"encoding":{
"y":{"field":"v","type":"quantitative","scale":{"domain":[-6,106.7]},"axis":null},
"x":{"datum":-2.84,"type":"quantitative","scale":{"domain":[-2.84,129.85]},"axis":null},
"x2":{"datum":128.55},
"color":{"field":"k","type":"nominal","legend":null,"scale":{"domain":["noir","rouge"],"range":["#000000","#ff5555"]}},
"strokeWidth":{"field":"k","type":"nominal","legend":null,"scale":{"domain":["noir","rouge"],"range":[1.1,2.2]}}}},
{"data":{"name":"rsi"},"mark":{"type":"line","clip":true,"stroke":"#000000","strokeWidth":1.8},"encoding":{
"x":{"field":"bar","type":"quantitative","scale":{"domain":[-2.84,129.85]},"axis":null},
"y":{"field":"rsi","type":"quantitative","scale":{"domain":[-6,106.7]},"axis":null}}},
{"data":{"name":"rsiNotes"},"mark":{"type":"text","align":"left","baseline":"middle","fontSize":11,"color":"#222222"},"encoding":{
"x":{"field":"bar","type":"quantitative","scale":{"domain":[-2.84,129.85]},"axis":null},
"y":{"field":"v","type":"quantitative","scale":{"domain":[-6,106.7]},"axis":null},
"text":{"field":"t"}}},
{"data":{"name":"rsiMark"},"mark":{"type":"rect","fill":"white"},"encoding":{
"x":{"field":"a","type":"quantitative","scale":{"domain":[-2.84,129.85]},"axis":null},
"x2":{"field":"b"},
"y":{"field":"top","type":"quantitative","scale":{"domain":[-6,106.7]},"axis":null},
"y2":{"field":"bottom"}}},
{"data":{"name":"rsiMark"},"mark":{"type":"text","align":"right","baseline":"middle","fontSize":11,"color":"#3a3a80"},"encoding":{
"x":{"field":"bar","type":"quantitative","scale":{"domain":[-2.84,129.85]},"axis":null},
"y":{"field":"v","type":"quantitative","scale":{"domain":[-6,106.7]},"axis":null},
"text":{"field":"t"}}},
{"data":{"name":"rsiTags"},"mark":{"type":"rect"},"encoding":{
"x":{"field":"a","type":"quantitative","scale":{"domain":[-2.84,129.85]},"axis":null},
"x2":{"field":"b"},
"y":{"field":"top","type":"quantitative","scale":{"domain":[-6,106.7]},"axis":null},
"y2":{"field":"bottom"},
"color":{"field":"k","type":"nominal","legend":null,"scale":{"domain":["gris","rouge"],"range":["#999999","#ff5555"]}}}},
{"data":{"name":"rsiTags"},"mark":{"type":"text","align":"left","baseline":"middle","fontSize":11,"color":"#222222"},"encoding":{
"x":{"field":"a","type":"quantitative","scale":{"domain":[-2.84,129.85]},"axis":null},
"y":{"field":"v","type":"quantitative","scale":{"domain":[-6,106.7]},"axis":null},
"text":{"field":"t"}}}
]}
]}
